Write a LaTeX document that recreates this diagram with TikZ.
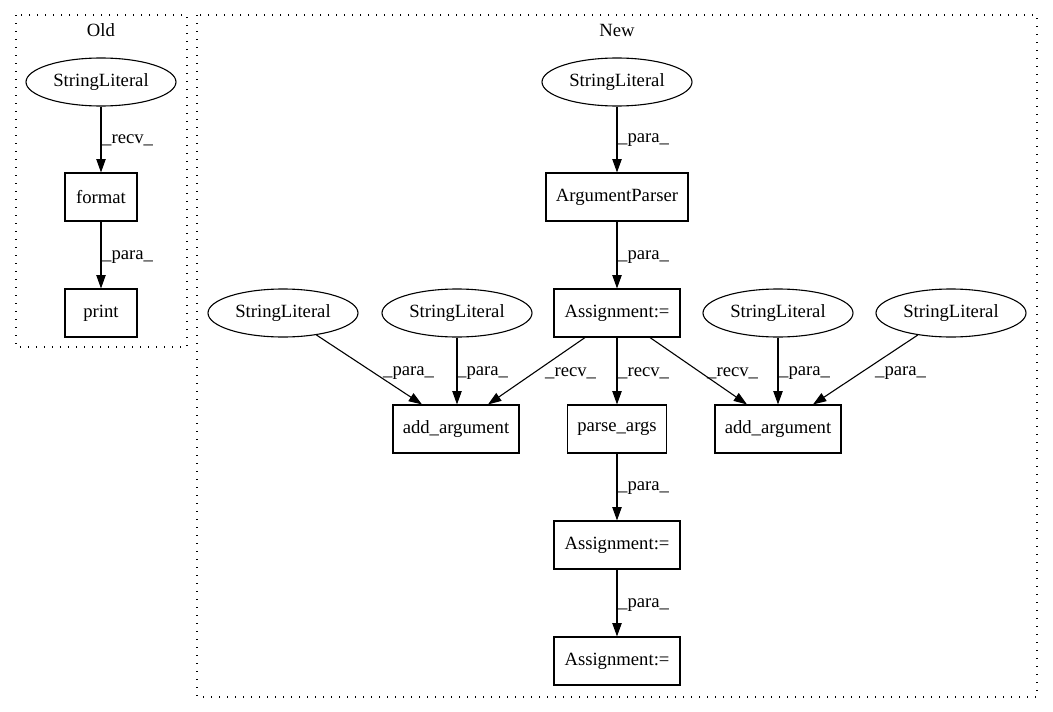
\documentclass[tikz,border=0pt]{standalone}
\usepackage{fontspec}
\setmainfont{Liberation Serif}
\usetikzlibrary{shapes.geometric,arrows.meta}
\begin{document}
\begin{tikzpicture}[x=1pt,y=-1pt,
  every node/.style={font=\fontsize{18.67}{22}\selectfont},
  box/.style={draw,rectangle,line width=1.1pt,minimum height=48pt,inner sep=0pt},
  ell/.style={draw,ellipse,line width=1.1pt,minimum width=150pt,minimum height=48pt,inner sep=0pt},
  edge/.style={line width=1.1pt,-{Triangle[length=13.3pt,width=9.3pt]}},
  lbl/.style={inner sep=0pt,anchor=west},
  clus/.style={line width=1.1pt,dash pattern=on 1.4pt off 6.6pt}]
\useasboundingbox (0,0) rectangle (1053,712);
% clusters
\draw[clus] (16,15) rectangle (187,347);
\draw[clus] (197,15) rectangle (1037,697);
\node (oldt) at (101,30) {Old};
\node (newt) at (617,30) {New};
% Old
\node[ell] (osl) at (101,82) {StringLiteral};
\node[box,minimum width=72pt] (fmt) at (101,197) {format};
\node[box,minimum width=72pt] (prt) at (101,313) {print};
\draw[edge] (osl) -- (fmt);
\draw[edge] (fmt) -- (prt);
\node[lbl] (l1) at (102,140) {\_recv\_};
\node[lbl] (l2) at (102,257) {\_para\_};
% New
\node[ell] (nsl) at (617,82) {StringLiteral};
\node[box,minimum width=142pt] (ap) at (617,197) {ArgumentParser};
\node[box,minimum width=126pt] (as1) at (617,313) {Assignment:=};
\node[ell] (s1) at (283,313) {StringLiteral};
\node[ell] (s2) at (457,313) {StringLiteral};
\node[ell] (s3) at (778,313) {StringLiteral};
\node[ell] (s4) at (951,313) {StringLiteral};
\node[box,minimum width=126pt] (aa1) at (456,429) {add\_argument};
\node[box,minimum width=99pt] (pa) at (617,429) {parse\_args};
\node[box,minimum width=126pt] (aa2) at (778,429) {add\_argument};
\node[box,minimum width=126pt] (as2) at (617,545) {Assignment:=};
\node[box,minimum width=126pt] (as3) at (617,661) {Assignment:=};
\draw[edge] (nsl) -- (ap);
\draw[edge] (ap) -- (as1);
\draw[edge] (s1) -- ([xshift=-34pt]aa1.north);
\draw[edge] (s2) -- (s2 |- aa1.north);
\draw[edge] ([xshift=-32pt]as1.south) -- ([xshift=32pt]aa1.north);
\draw[edge] (as1) -- (pa);
\draw[edge] ([xshift=33pt]as1.south) -- ([xshift=-31pt]aa2.north);
\draw[edge] (s3) -- (aa2);
\draw[edge] (s4) -- ([xshift=35pt]aa2.north);
\draw[edge] (pa) -- (as2);
\draw[edge] (as2) -- (as3);
\node[lbl] (l3) at (618,140) {\_para\_};
\node[lbl] (l4) at (618,257) {\_para\_};
\node[lbl] (l5) at (383,373) {\_para\_};
\node[lbl] (l6) at (457,373) {\_para\_};
\node[lbl] (l7) at (545,373) {\_recv\_};
\node[lbl] (l8) at (618,373) {\_recv\_};
\node[lbl] (l9) at (707,373) {\_recv\_};
\node[lbl] (l10) at (779,373) {\_para\_};
\node[lbl] (l11) at (875,373) {\_para\_};
\node[lbl] (l12) at (618,488) {\_para\_};
\node[lbl] (l13) at (618,605) {\_para\_};
\end{tikzpicture}
\end{document}
